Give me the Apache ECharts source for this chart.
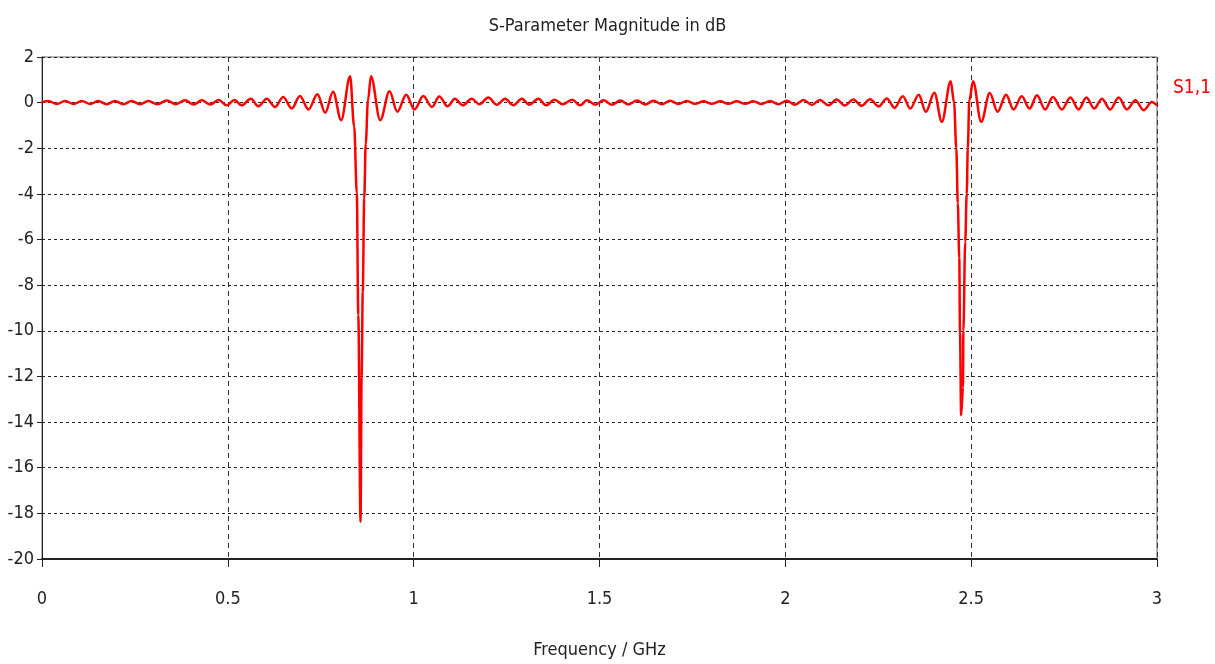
<!DOCTYPE html>
<html>
<head>
<meta charset="utf-8">
<script src="https://cdn.jsdelivr.net/npm/echarts@6/dist/echarts.min.js"></script>
<style>
html,body{margin:0;padding:0;background:#fff;}
#chart{width:1215px;height:664px;}
</style>
</head>
<body>
<div id="chart"></div>
<script>
const titleText = 'S-Parameter Magnitude in dB';
const xAxisName = 'Frequency / GHz';
const seriesName = 'S1,1';
const xTicks = [0, 0.5, 1, 1.5, 2, 2.5, 3];
const yTicks = [2, 0, -2, -4, -6, -8, -10, -12, -14, -16, -18, -20];

const freqGHz = [
  0.000, 0.017, 0.040, 0.062, 0.085, 0.107, 0.130, 0.151, 0.174, 0.196,
  0.219, 0.241, 0.264, 0.286, 0.310, 0.336, 0.360, 0.385, 0.408, 0.430,
  0.453, 0.475, 0.497, 0.518, 0.537, 0.562, 0.582, 0.605, 0.627, 0.649,
  0.672, 0.694, 0.717, 0.741, 0.762, 0.783, 0.805, 0.829,
  0.840, 0.847, 0.851, 0.857, 0.860, 0.863, 0.867, 0.871, 0.877, 0.885,
  0.910, 0.935, 0.956, 0.980, 1.002, 1.026, 1.049, 1.069, 1.091, 1.111,
  1.132, 1.156, 1.177, 1.201, 1.224, 1.246, 1.268, 1.291, 1.311, 1.336,
  1.356, 1.379, 1.401, 1.426, 1.448, 1.466, 1.489, 1.511, 1.533, 1.556,
  1.578, 1.601, 1.623, 1.645, 1.668, 1.690, 1.712, 1.735, 1.757, 1.780,
  1.802, 1.825, 1.847, 1.869, 1.892, 1.914, 1.936, 1.959, 1.981, 2.004,
  2.026, 2.049, 2.071, 2.093, 2.116, 2.138, 2.160, 2.183, 2.205, 2.228,
  2.251, 2.273, 2.294, 2.316, 2.336, 2.359, 2.378, 2.401, 2.421, 2.445,
  2.454, 2.460, 2.464, 2.468, 2.470, 2.473, 2.478, 2.479, 2.484, 2.488,
  2.491, 2.495, 2.505,
  2.527, 2.550, 2.571, 2.594, 2.614, 2.636, 2.657, 2.677, 2.699, 2.720,
  2.744, 2.767, 2.789, 2.810, 2.831, 2.852, 2.874, 2.897, 2.919, 2.942,
  2.964, 2.986, 3.000
];

const s11dB = [
  0.02, 0.07, -0.06, 0.07, -0.06, 0.07, -0.06, 0.07, -0.07, 0.07,
  -0.07, 0.07, -0.07, 0.07, -0.07, 0.09, -0.07, 0.10, -0.08, 0.10,
  -0.08, 0.12, -0.12, 0.12, -0.12, 0.17, -0.16, 0.17, -0.19, 0.25,
  -0.26, 0.29, -0.30, 0.37, -0.44, 0.48, -0.77, 1.16,
  -1.05, -3.95, -9.3, -18.37, -12.0, -8.3, -4.2, -1.8, 0.1, 1.16,
  -0.77, 0.50, -0.40, 0.35, -0.30, 0.29, -0.19, 0.27, -0.16, 0.17,
  -0.12, 0.17, -0.07, 0.22, -0.09, 0.17, -0.12, 0.17, -0.09, 0.17,
  -0.12, 0.13, -0.07, 0.13, -0.12, 0.10, -0.09, 0.10, -0.09, 0.09,
  -0.08, 0.09, -0.08, 0.08, -0.07, 0.08, -0.06, 0.07, -0.05, 0.06,
  -0.05, 0.06, -0.05, 0.06, -0.05, 0.06, -0.06, 0.07, -0.07, 0.08,
  -0.09, 0.12, -0.10, 0.12, -0.12, 0.14, -0.13, 0.14, -0.14, 0.15,
  -0.17, 0.18, -0.23, 0.28, -0.26, 0.35, -0.40, 0.43, -0.84, 0.94,
  0.0, -2.0, -4.4, -6.8, -10.1, -13.7, -12.5, -10.0, -6.1, -4.0,
  -2.0, 0.1, 0.94,
  -0.84, 0.42, -0.40, 0.35, -0.30, 0.28, -0.26, 0.32, -0.30, 0.25,
  -0.30, 0.22, -0.30, 0.22, -0.26, 0.17, -0.30, 0.22, -0.30, 0.10,
  -0.33, 0.03, -0.12
];

const lineData = freqGHz.map((f, i) => [f, s11dB[i]]);
const FONT = "'DejaVu Sans Condensed', 'Liberation Sans Narrow', 'DejaVu Sans', sans-serif";

const chart = echarts.init(document.getElementById('chart'), null, {renderer: 'canvas'});
chart.setOption({
  animation: false,
  backgroundColor: '#ffffff',
  title: {
    text: titleText,
    left: 'center',
    top: 12,
    textStyle: {fontFamily: FONT, fontSize: 18, fontWeight: 'normal', color: '#222'}
  },
  legend: {
    data: [seriesName],
    left: 1163,
    top: 74,
    itemWidth: 0,
    itemHeight: 0,
    icon: 'rect',
    textStyle: {fontFamily: FONT, fontSize: 19, color: '#ff0000'}
  },
  grid: {
    left: 42, right: 58, top: 57, bottom: 96,
    show: true, borderColor: '#666', borderWidth: 1, backgroundColor: 'transparent'
  },
  xAxis: {
    type: 'value',
    min: xTicks[0], max: xTicks[xTicks.length - 1], interval: 0.5,
    name: xAxisName,
    nameLocation: 'middle',
    nameGap: 82,
    nameTextStyle: {fontFamily: FONT, fontSize: 18, color: '#222'},
    axisLine: {show: true, onZero: false, lineStyle: {color: '#222', width: 2}},
    axisTick: {show: true, length: 8, lineStyle: {color: '#222'}},
    axisLabel: {fontFamily: FONT, fontSize: 18, color: '#222', margin: 31,
      formatter: v => String(v)},
    splitLine: {show: true, lineStyle: {color: '#333', type: [5, 4], width: 1}}
  },
  yAxis: {
    type: 'value',
    min: yTicks[yTicks.length - 1], max: yTicks[0], interval: 2,
    axisLine: {show: true, onZero: false, lineStyle: {color: '#222', width: 1}},
    axisTick: {show: true, length: 5, lineStyle: {color: '#222'}},
    axisLabel: {fontFamily: FONT, fontSize: 18, color: '#222', margin: 8},
    splitLine: {show: true, lineStyle: {color: '#222', type: [3, 3], width: 1}}
  },
  series: [{
    name: seriesName,
    type: 'line',
    data: lineData,
    showSymbol: false,
    symbol: 'none',
    smooth: 0.35,
    smoothMonotone: 'x',
    lineStyle: {color: '#ff0000', width: 2.5},
    itemStyle: {color: '#ff0000'},
    z: 5
  }]
});
</script>
</body>
</html>
